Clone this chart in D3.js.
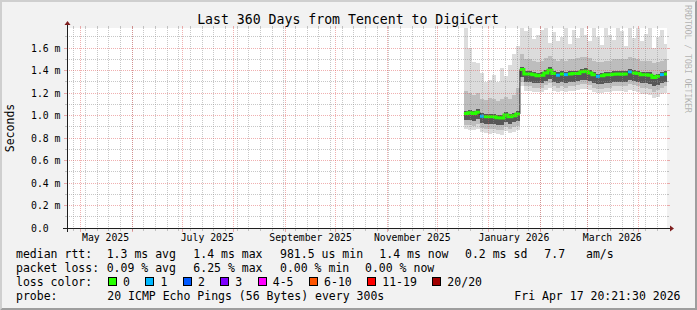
<!DOCTYPE html>
<html>
<head>
<meta charset="utf-8">
<script src="https://cdn.jsdelivr.net/npm/d3@7/dist/d3.min.js"></script>
<style>
  body { margin: 0; background: #f2f2f2; }
  svg { display: block; font-family: "DejaVu Sans Mono", monospace; }
</style>
</head>
<body>
<svg id="chart" width="697" height="310"></svg>
<script>
// graph window: last 360 days
const graphEnd = new Date(2026, 3, 17, 20, 21, 30);
const graphStart = d3.timeDay.offset(graphEnd, -360);
const yMax = 1.78; // ms at the top of the canvas

// one consolidated sample every 2.4 days from here on
const sampleStart = new Date(2025, 11, 17);
const sampleStepHours = 57.6;

// median rtt (ms)
const median = [
  1.02, 1.025, 1.018, 1.03, 0.995, 0.99, 0.99, 0.99, 0.982, 0.98, 1.005, 0.99, 1.0, 1.015,
  1.41, 1.37, 1.37, 1.365, 1.355, 1.36, 1.38, 1.405, 1.375, 1.36, 1.37, 1.365, 1.37, 1.375,
  1.375, 1.39, 1.395, 1.38, 1.365, 1.35, 1.355, 1.365, 1.365, 1.368, 1.37, 1.368, 1.37, 1.39,
  1.38, 1.375, 1.365, 1.365, 1.36, 1.34, 1.35, 1.365, 1.37
];
// smoke band edges (ms), outer to inner
const smokeTop = [
  1.78, 1.60, 1.48, 1.47, 1.38, 1.30, 1.32, 1.36, 1.30, 1.42, 1.35, 1.45, 1.55, 1.62,
  1.78, 1.75, 1.78, 1.68, 1.72, 1.76, 1.78, 1.65, 1.74, 1.66, 1.70, 1.78, 1.64, 1.76,
  1.69, 1.78, 1.72, 1.66, 1.78, 1.70, 1.63, 1.78, 1.72, 1.67, 1.78, 1.75, 1.62, 1.78,
  1.69, 1.78, 1.66, 1.73, 1.78, 1.60, 1.70, 1.76, 1.64
];
const smokeHi2 = [
  1.22, 1.20, 1.18, 1.20, 1.15, 1.14, 1.16, 1.15, 1.13, 1.15, 1.17, 1.15, 1.18, 1.25,
  1.55, 1.50, 1.50, 1.49, 1.48, 1.49, 1.51, 1.53, 1.50, 1.49, 1.50, 1.49, 1.50, 1.50,
  1.51, 1.52, 1.52, 1.51, 1.49, 1.48, 1.48, 1.49, 1.49, 1.50, 1.50, 1.50, 1.50, 1.52,
  1.51, 1.50, 1.49, 1.49, 1.49, 1.47, 1.48, 1.49, 1.50
];
const smokeHi3 = [
  1.045, 1.05, 1.045, 1.055, 1.02, 1.015, 1.015, 1.015, 1.005, 1.005, 1.03, 1.015, 1.025, 1.04,
  1.435, 1.395, 1.395, 1.39, 1.38, 1.385, 1.405, 1.43, 1.40, 1.385, 1.395, 1.39, 1.395, 1.40,
  1.40, 1.415, 1.42, 1.405, 1.39, 1.375, 1.38, 1.39, 1.39, 1.395, 1.395, 1.395, 1.395, 1.415,
  1.405, 1.40, 1.39, 1.39, 1.385, 1.365, 1.375, 1.39, 1.395
];
const smokeLo3 = [
  0.96, 0.965, 0.955, 0.97, 0.935, 0.93, 0.925, 0.93, 0.92, 0.92, 0.945, 0.93, 0.94, 0.955,
  1.34, 1.30, 1.30, 1.29, 1.29, 1.29, 1.31, 1.33, 1.30, 1.29, 1.30, 1.29, 1.30, 1.30,
  1.31, 1.32, 1.32, 1.31, 1.29, 1.28, 1.28, 1.29, 1.29, 1.30, 1.30, 1.30, 1.30, 1.32,
  1.31, 1.30, 1.29, 1.29, 1.28, 1.26, 1.27, 1.29, 1.30
];
const smokeLo2 = [
  0.92, 0.915, 0.91, 0.925, 0.89, 0.885, 0.88, 0.885, 0.875, 0.87, 0.90, 0.885, 0.895, 0.91,
  1.30, 1.26, 1.26, 1.25, 1.25, 1.25, 1.27, 1.29, 1.26, 1.25, 1.26, 1.25, 1.26, 1.26,
  1.27, 1.28, 1.28, 1.27, 1.25, 1.24, 1.24, 1.25, 1.25, 1.26, 1.26, 1.26, 1.26, 1.28,
  1.27, 1.26, 1.25, 1.25, 1.24, 1.21, 1.23, 1.25, 1.26
];
const smokeLo1 = [
  0.88, 0.875, 0.87, 0.885, 0.85, 0.845, 0.84, 0.845, 0.835, 0.83, 0.86, 0.845, 0.855, 0.87,
  1.26, 1.22, 1.22, 1.21, 1.21, 1.21, 1.23, 1.25, 1.22, 1.21, 1.22, 1.21, 1.22, 1.22,
  1.23, 1.24, 1.24, 1.23, 1.21, 1.20, 1.20, 1.21, 1.21, 1.22, 1.22, 1.22, 1.21, 1.23,
  1.22, 1.21, 1.19, 1.19, 1.18, 1.16, 1.17, 1.19, 1.20
];
// lost pings (of 20) per sample
const lossCount = [
  0, 0, 0, 0, 1, 0, 0, 0, 0, 0, 0, 0, 0, 0,
  0, 0, 0, 0, 0, 0, 0, 0, 0, 1, 0, 1, 0, 0,
  0, 0, 0, 0, 0, 1, 0, 0, 0, 0, 0, 0, 0, 1,
  0, 0, 0, 0, 0, 0, 0, 1, 0
];

const yTicks = [0, 0.2, 0.4, 0.6, 0.8, 1.0, 1.2, 1.4, 1.6];
const yMinorTicks = [0.1, 0.3, 0.5, 0.7, 0.9, 1.1, 1.3, 1.5, 1.7];

const lossLabels = ["0", "1", "2", "3", "4-5", "6-10", "11-19", "20/20"];
const lossColors = ["#26ff00", "#00b8ff", "#0059ff", "#7e00ff", "#ff00ff", "#ff5500", "#ff0000", "#a10000"];

const medianStats = ["1.3 ms avg", "1.4 ms max", "981.5 us min", "1.4 ms now", "0.2 ms sd", "7.7", "am/s"];
const medianCols = [106.7, 193.3, 280, 379.3, 465, 544.3, 586];
const lossStats = ["0.09 % avg", "6.25 % max", "0.00 % min", "0.00 % now"];
const lossCols = [106.7, 193.3, 280, 365];
const probeText = "20 ICMP Echo Pings (56 Bytes) every 300s";
const stampText = "Fri Apr 17 20:21:30 2026";

const W = 697, H = 310;
const plot = { left: 67, right: 667, top: 28, bottom: 228 };
const svg = d3.select("#chart");

// background with the rrdtool 3d shade
svg.append("rect").attr("width", W).attr("height", H).attr("fill", "#f2f2f2");
svg.append("path").attr("fill", "#cfcfcf")
  .attr("d", `M0,0L0,${H}L2,${H - 2}L2,2L${W - 2},2L${W},0Z`);
svg.append("path").attr("fill", "#9e9e9e")
  .attr("d", `M${W},${H}L0,${H}L2,${H - 2}L${W - 2},${H - 2}L${W - 2},2L${W},0Z`);

svg.append("rect")
  .attr("x", plot.left).attr("y", plot.top)
  .attr("width", plot.right - plot.left).attr("height", plot.bottom - plot.top)
  .attr("fill", "#fff");

const x = d3.scaleTime().domain([graphStart, graphEnd]).range([plot.left, plot.right]);
const y = d3.scaleLinear().domain([0, yMax]).range([plot.bottom, plot.top]);
const px = v => Math.floor(v) + 0.5;

svg.append("clipPath").attr("id", "clip")
  .append("rect")
  .attr("x", plot.left).attr("y", plot.top)
  .attr("width", plot.right - plot.left).attr("height", plot.bottom - plot.top);

// build rows
const stepMs = sampleStepHours * 3600e3;
const rows = median.map((m, i) => ({
  t: new Date(+sampleStart + i * stepMs),
  median: m,
  top: smokeTop[i], hi2: smokeHi2[i], hi3: smokeHi3[i],
  lo3: smokeLo3[i], lo2: smokeLo2[i], lo1: smokeLo1[i],
  loss: lossCount[i]
}));
// closing point so the last step gets its width
const stepRows = rows.concat([Object.assign({}, rows[rows.length - 1], {
  t: new Date(+sampleStart + rows.length * stepMs)
})]);

const g = svg.append("g").attr("clip-path", "url(#clip)");

// smoke
const bands = [
  { lo: "lo1", hi: "top", color: "#dcdcdc" },
  { lo: "lo2", hi: "hi2", color: "#bdbdbd" },
  { lo: "lo3", hi: "hi3", color: "#575757" }
];
bands.forEach(b => {
  g.append("path")
    .datum(stepRows)
    .attr("fill", b.color)
    .attr("shape-rendering", "crispEdges")
    .attr("d", d3.area()
      .x(d => x(d.t))
      .y0(d => y(d[b.lo]))
      .y1(d => y(d[b.hi]))
      .curve(d3.curveStepAfter));
});

// grid (drawn over the smoke, like rrdtool)
const grid = svg.append("g").attr("shape-rendering", "crispEdges")
  .attr("stroke-dasharray", "1,1").attr("stroke-width", 1);
const minorCol = "rgba(143,143,143,0.5)";
const majorCol = "rgba(222,79,79,0.45)";

const weeks = d3.timeSunday.range(graphStart, graphEnd);
const months = d3.timeMonth.range(graphStart, graphEnd);

grid.selectAll(".vmin").data(weeks).enter().append("line")
  .attr("x1", d => px(x(d))).attr("x2", d => px(x(d)))
  .attr("y1", plot.top).attr("y2", plot.bottom)
  .attr("stroke", minorCol);
grid.selectAll(".hmin").data(yMinorTicks).enter().append("line")
  .attr("x1", plot.left).attr("x2", plot.right)
  .attr("y1", d => px(y(d))).attr("y2", d => px(y(d)))
  .attr("stroke", minorCol);
grid.selectAll(".vmaj").data(months).enter().append("line")
  .attr("x1", d => px(x(d))).attr("x2", d => px(x(d)))
  .attr("y1", plot.top).attr("y2", plot.bottom)
  .attr("stroke", majorCol);
grid.selectAll(".hmaj").data(yTicks.filter(d => d > 0)).enter().append("line")
  .attr("x1", plot.left).attr("x2", plot.right)
  .attr("y1", d => px(y(d))).attr("y2", d => px(y(d)))
  .attr("stroke", majorCol);

// tick marks on the edges
const ticks = svg.append("g").attr("shape-rendering", "crispEdges");
weeks.forEach(d => {
  const xx = px(x(d));
  ticks.append("line").attr("x1", xx).attr("x2", xx).attr("y1", plot.bottom).attr("y2", plot.bottom + 3).attr("stroke", minorCol);
  ticks.append("line").attr("x1", xx).attr("x2", xx).attr("y1", plot.top - 2).attr("y2", plot.top).attr("stroke", minorCol);
});
months.forEach(d => {
  const xx = px(x(d));
  ticks.append("line").attr("x1", xx).attr("x2", xx).attr("y1", plot.bottom).attr("y2", plot.bottom + 4).attr("stroke", majorCol);
  ticks.append("line").attr("x1", xx).attr("x2", xx).attr("y1", plot.top - 2).attr("y2", plot.top).attr("stroke", majorCol);
});
yMinorTicks.forEach(d => {
  const yy = px(y(d));
  ticks.append("line").attr("x1", plot.left - 2).attr("x2", plot.left).attr("y1", yy).attr("y2", yy).attr("stroke", minorCol);
  ticks.append("line").attr("x1", plot.right).attr("x2", plot.right + 2).attr("y1", yy).attr("y2", yy).attr("stroke", minorCol);
});
yTicks.forEach(d => {
  const yy = px(y(d));
  ticks.append("line").attr("x1", plot.left - 3).attr("x2", plot.left).attr("y1", yy).attr("y2", yy).attr("stroke", majorCol);
  ticks.append("line").attr("x1", plot.right).attr("x2", plot.right + 3).attr("y1", yy).attr("y2", yy).attr("stroke", majorCol);
});

// median line: thin dark step line, then loss-coloured LINE3 segments
const stepLine = d3.line().x(d => x(d.t)).y(d => y(d.median)).curve(d3.curveStepAfter);
g.append("path").datum(stepRows)
  .attr("fill", "none").attr("stroke", "#202020").attr("stroke-width", 1)
  .attr("d", stepLine);

const bucket = n => n === 0 ? 0 : n === 1 ? 1 : n === 2 ? 2 : n === 3 ? 3 :
  n <= 5 ? 4 : n <= 10 ? 5 : n < 20 ? 6 : 7;
const segs = [];
rows.forEach((r, i) => {
  const prev = rows[i - 1];
  const c = bucket(r.loss);
  if (!prev || bucket(prev.loss) !== c || Math.abs(r.median - prev.median) > 0.2) {
    segs.push({ c: c, pts: [] });
  }
  segs[segs.length - 1].pts.push(i);
});
segs.forEach(s => {
  const lastIdx = s.pts[s.pts.length - 1];
  const pts = s.pts.map(i => rows[i]).concat([Object.assign({}, rows[lastIdx], { t: stepRows[lastIdx + 1].t })]);
  g.append("path").datum(pts)
    .attr("fill", "none")
    .attr("stroke", lossColors[s.c])
    .attr("stroke-width", 3)
    .attr("stroke-linecap", "butt")
    .attr("d", stepLine);
});

// axes with arrows
svg.append("line").attr("x1", plot.left - 4).attr("x2", plot.right + 4)
  .attr("y1", plot.bottom + 0.5).attr("y2", plot.bottom + 0.5)
  .attr("stroke", "#1f1f1f").attr("shape-rendering", "crispEdges");
svg.append("line").attr("x1", plot.left + 0.5).attr("x2", plot.left + 0.5)
  .attr("y1", plot.bottom + 4).attr("y2", plot.top - 4)
  .attr("stroke", "#1f1f1f").attr("shape-rendering", "crispEdges");
svg.append("path").attr("fill", "#7f1f1f")
  .attr("d", `M${plot.right + 3},${plot.bottom - 2.5}L${plot.right + 7},${plot.bottom + 0.5}L${plot.right + 3},${plot.bottom + 3.5}Z`);
svg.append("path").attr("fill", "#7f1f1f")
  .attr("d", `M${plot.left - 2.5},${plot.top - 3}L${plot.left + 0.5},${plot.top - 7}L${plot.left + 3.5},${plot.top - 3}Z`);

// axis labels
svg.append("g").selectAll("text").data(yTicks).enter().append("text")
  .attr("x", 31).attr("y", d => px(y(d)) + 3.5)
  .attr("font-size", "9.8px").attr("fill", "#000")
  .text(d => d === 0 ? "0.0" : d.toFixed(1) + " m");

svg.append("g").selectAll("text")
  .data(months.filter(d => d.getMonth() % 2 === 0)).enter().append("text")
  .attr("x", d => x(d3.timeDay.offset(d, 15)))
  .attr("y", 241)
  .attr("text-anchor", "middle")
  .attr("font-size", "9.8px").attr("fill", "#000")
  .text(d3.timeFormat("%B %Y"));

svg.append("text")
  .attr("transform", "translate(14,128) rotate(-90)")
  .attr("text-anchor", "middle")
  .attr("font-size", "11.5px")
  .text("Seconds");

svg.append("text")
  .attr("x", 348).attr("y", 23.5)
  .attr("text-anchor", "middle")
  .attr("font-size", "13.2px")
  .text("Last 360 Days from Tencent to DigiCert");

svg.append("text")
  .attr("transform", "translate(685,5) rotate(90)")
  .attr("font-size", "8.6px")
  .attr("textLength", 108).attr("lengthAdjust", "spacing")
  .attr("fill", "#000").attr("fill-opacity", 0.28)
  .text("RRDTOOL / TOBI OETIKER");

// legend
const leg = svg.append("g").attr("font-size", "11.5px").attr("fill", "#000");
leg.append("text").attr("x", 16).attr("y", 258).text("median rtt:");
leg.selectAll(".ms").data(medianStats).enter().append("text")
  .attr("x", (d, i) => medianCols[i]).attr("y", 258).text(d => d);
leg.append("text").attr("x", 16).attr("y", 272).text("packet loss:");
leg.selectAll(".ls").data(lossStats).enter().append("text")
  .attr("x", (d, i) => lossCols[i]).attr("y", 272).text(d => d);
leg.append("text").attr("x", 16).attr("y", 286).text("loss color:");

let lx = 108;
lossLabels.forEach((lab, i) => {
  leg.append("rect")
    .attr("x", lx + 0.5).attr("y", 277.5).attr("width", 8).attr("height", 8)
    .attr("fill", lossColors[i]).attr("stroke", "#000")
    .attr("shape-rendering", "crispEdges");
  const t = leg.append("text").attr("x", lx + 15).attr("y", 286).text(lab);
  lx = lx + 15 + t.node().getComputedTextLength() + 15.5;
});

leg.append("text").attr("x", 16).attr("y", 300).text("probe:");
leg.append("text").attr("x", 107.3).attr("y", 300).text(probeText);
leg.append("text").attr("x", 680.5).attr("y", 300).attr("text-anchor", "end").text(stampText);
</script>
</body>
</html>
